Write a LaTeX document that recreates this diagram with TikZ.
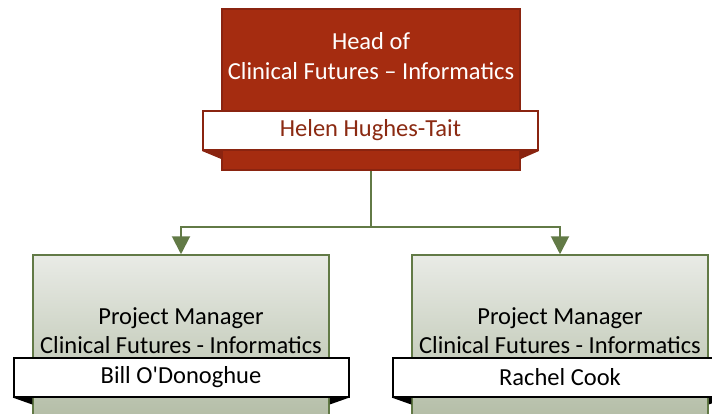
\documentclass[tikz,border=0pt]{standalone}
\usepackage{fontspec}
\setmainfont{Carlito}
\usetikzlibrary{arrows.meta,positioning}
\definecolor{headred}{HTML}{A52C10}
\definecolor{headedge}{HTML}{8A2410}
\definecolor{headtext}{HTML}{8B2A12}
\definecolor{pmedge}{HTML}{627A46}
\definecolor{pmtop}{HTML}{E9EBE6}
\definecolor{pmbottom}{HTML}{B3BDA6}

\begin{document}
\begin{tikzpicture}
		[x=1pt,y=-1pt,
		head box/.style={draw=headedge,line width=1.5pt,fill=headred,minimum width=298pt,minimum height=161pt,inner sep=0pt},
		pm box/.style={draw=pmedge,line width=1.5pt,top color=pmtop,bottom color=pmbottom,minimum width=296pt,minimum height=165pt,inner sep=0pt},
		title/.style={align=center,inner sep=0pt,font=\fontsize{24.5}{29}\selectfont},
		name label/.style={draw,line width=2pt,fill=white,minimum width=335pt,minimum height=39pt,inner sep=0pt,font=\fontsize{24.5}{29}\selectfont},
		link/.style={draw=pmedge,line width=2pt}]
		\clip (0,0) rectangle (712,414);
		
		\node[head box] (head) at (371,89.5) {};
		\node[title,text=white,font=\fontsize{24.5}{30}\selectfont] (headtitle) at (371,56) {Head of\\Clinical Futures -- Informatics};
		\node[name label,draw=headedge,text=headtext] (headname) at (370.5,130.5) {Helen Hughes-Tait};
		\fill[headedge] (headname.south west) -- (head.west |- headname.south) -- ++(0,8) -- cycle;
		\fill[headedge] (headname.south east) -- (head.east |- headname.south) -- ++(0,8) -- cycle;
		
		\node[pm box] (pm1) at (181,337.5) {};
		\node[title] (pm1title) at (181,331) {Project Manager\\Clinical Futures - Informatics};
		\node[name label] (pm1name) at (181,377) {Bill O\textquotesingle Donoghue};
		\fill (pm1name.south west) -- (pm1.west |- pm1name.south) -- ++(0,7) -- cycle;
		\fill (pm1name.south east) -- (pm1.east |- pm1name.south) -- ++(0,7) -- cycle;
		
		\node[pm box] (pm2) at (560,337.5) {};
		\node[title] (pm2title) at (560,331) {Project Manager\\Clinical Futures - Informatics};
		\node[name label] (pm2name) at (560,377) {Rachel Cook};
		\fill (pm2name.south west) -- (pm2.west |- pm2name.south) -- ++(0,7) -- cycle;
		\fill (pm2name.south east) -- (pm2.east |- pm2name.south) -- ++(0,7) -- cycle;
		
		\coordinate (split) at (371,227);
		\draw[link] (head.south) -- (split);
		\draw[link,-{Triangle[width=18pt,length=18pt]}] (split) -| (pm1.north);
		\draw[link,-{Triangle[width=18pt,length=18pt]}] (split) -| (pm2.north);
		\end{tikzpicture}
\end{document}
